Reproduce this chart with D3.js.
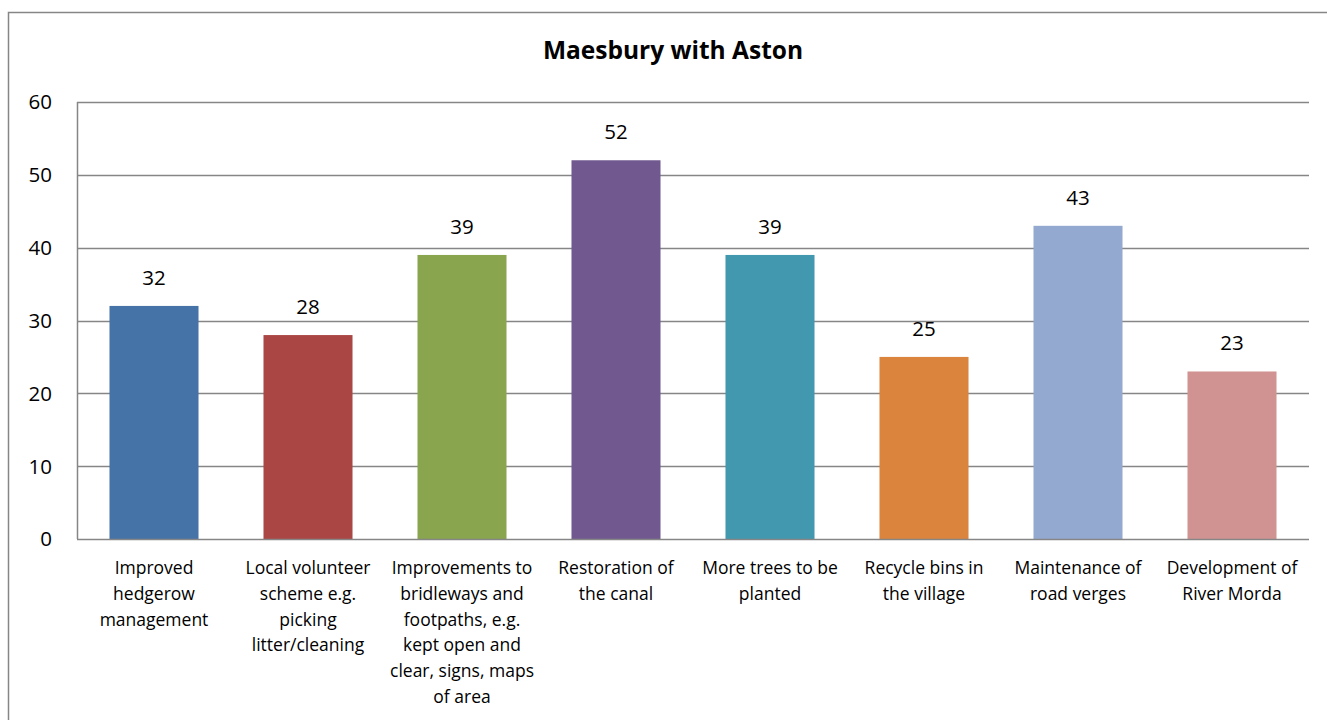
<!DOCTYPE html>
<html>
<head>
<meta charset="utf-8">
<script src="https://cdn.jsdelivr.net/npm/d3@7"></script>
<style>
  html, body { margin: 0; padding: 0; background: #fff; }
  svg { display: block; font-family: "Open Sans", Carlito, Lato, sans-serif; }
</style>
</head>
<body>
<svg id="chart" width="1327" height="720"></svg>
<script>
// Survey responses for Maesbury with Aston
const title = "Maesbury with Aston";
const categories = [
  ["Improved", "hedgerow", "management"],
  ["Local volunteer", "scheme e.g.", "picking", "litter/cleaning"],
  ["Improvements to", "bridleways and", "footpaths, e.g.", "kept open and", "clear, signs, maps", "of area"],
  ["Restoration of", "the canal"],
  ["More trees to be", "planted"],
  ["Recycle bins in", "the village"],
  ["Maintenance of", "road verges"],
  ["Development of", "River Morda"]
];
const values = [32, 28, 39, 52, 39, 25, 43, 23];
const colors = ["#4572A7", "#AA4643", "#89A54E", "#71588F", "#4198AF", "#DB843D", "#93A9CF", "#D19392"];
const yTicks = [0, 10, 20, 30, 40, 50, 60];

const svg = d3.select("#chart");
const plot = { left: 77, right: 1309, top: 102, bottom: 539 };
const gridColor = "#868686";
const fontFamily = "'Open Sans', Carlito, Lato, sans-serif";

// Outer chart frame
svg.append("rect")
  .attr("x", 8.5).attr("y", 12.5)
  .attr("width", 1340).attr("height", 720)
  .attr("fill", "none").attr("stroke", gridColor).attr("stroke-width", 1.5);

svg.append("text")
  .attr("x", 673).attr("y", 59)
  .attr("text-anchor", "middle")
  .attr("font-size", 24.5).attr("font-weight", "bold")
  .attr("fill", "#000")
  .text(title);

const x = d3.scaleBand()
  .domain(d3.range(categories.length))
  .range([plot.left, plot.right])
  .paddingInner(0.422).paddingOuter(0.211);

const y = d3.scaleLinear().domain([0, 60]).range([plot.bottom, plot.top]);

// Horizontal gridlines
svg.append("g").selectAll("line").data(yTicks.filter(d => d > 0)).join("line")
  .attr("x1", plot.left).attr("x2", plot.right)
  .attr("y1", d => Math.round(y(d)) + 0.5).attr("y2", d => Math.round(y(d)) + 0.5)
  .attr("stroke", gridColor).attr("stroke-width", 1.5);

// Y axis labels
const yAxis = d3.axisLeft(y).tickValues(yTicks).tickSize(0).tickPadding(25);
const gy = svg.append("g").attr("transform", `translate(${plot.left},0)`).call(yAxis);
gy.select(".domain").remove();
gy.selectAll("text").attr("font-size", 20.5).attr("fill", "#000")
  .attr("font-family", fontFamily).attr("dy", "0.34em");

// Bars
svg.append("g").selectAll("rect").data(values).join("rect")
  .attr("x", (d, i) => x(i))
  .attr("width", x.bandwidth())
  .attr("y", d => y(d))
  .attr("height", d => y(0) - y(d))
  .attr("fill", (d, i) => colors[i]);

// Value labels
svg.append("g").selectAll("text").data(values).join("text")
  .attr("x", (d, i) => x(i) + x.bandwidth() / 2)
  .attr("y", d => y(d) - 21)
  .attr("text-anchor", "middle")
  .attr("font-size", 20.5).attr("fill", "#000")
  .text(d => d);

// Axis lines
svg.append("line")
  .attr("x1", plot.left + 0.5).attr("x2", plot.left + 0.5)
  .attr("y1", plot.top).attr("y2", plot.bottom)
  .attr("stroke", gridColor).attr("stroke-width", 1.5);
svg.append("line")
  .attr("x1", plot.left).attr("x2", plot.right)
  .attr("y1", plot.bottom + 0.5).attr("y2", plot.bottom + 0.5)
  .attr("stroke", gridColor).attr("stroke-width", 1.5);

// Category labels
const cat = svg.append("g").selectAll("text").data(categories).join("text")
  .attr("text-anchor", "middle")
  .attr("font-size", 17.5).attr("fill", "#000");
cat.each(function(lines, i) {
  const cx = x(i) + x.bandwidth() / 2;
  d3.select(this).selectAll("tspan").data(lines).join("tspan")
    .attr("x", cx)
    .attr("y", (d, k) => 574 + k * 25.8)
    .text(d => d);
});
</script>
</body>
</html>
